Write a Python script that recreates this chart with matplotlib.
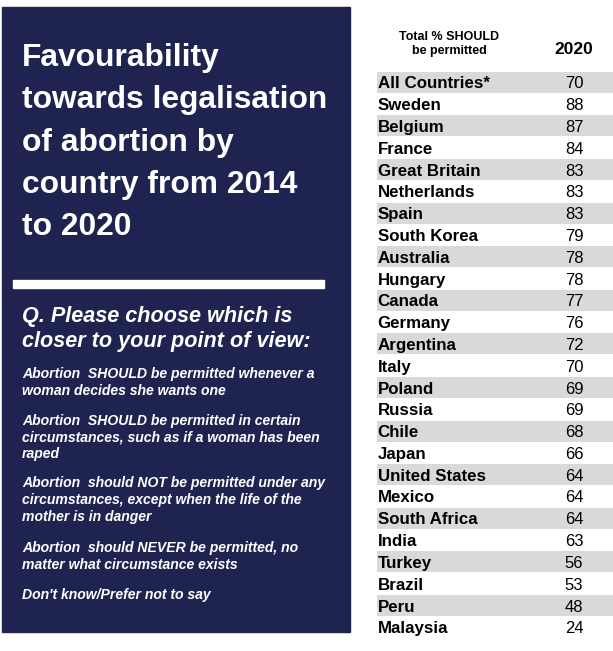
import matplotlib
matplotlib.use("Agg")
import matplotlib.pyplot as plt
from matplotlib.patches import Rectangle

plt.rcParams['font.family'] = ['Liberation Sans', 'DejaVu Sans']

countries = ["All Countries*", "Sweden", "Belgium", "France", "Great Britain", "Netherlands",
             "Spain", "South Korea", "Australia", "Hungary", "Canada", "Germany", "Argentina",
             "Italy", "Poland", "Russia", "Chile", "Japan", "United States", "Mexico",
             "South Africa", "India", "Turkey", "Brazil", "Peru", "Malaysia"]
values_2020 = [70, 88, 87, 84, 83, 83, 83, 79, 78, 78, 77, 76, 72, 70, 69, 69, 68, 66, 64, 64,
               64, 63, 56, 53, 48, 24]
column_header = "2020"
measure_label = ["Total % SHOULD", "be permitted"]
title_lines = ["Favourability", "towards legalisation", "of abortion by",
               "country from 2014", "to 2020"]
question_lines = ["Q. Please choose which is", "closer to your point of view:"]
options = [
    ["Abortion  SHOULD be permitted whenever a", "woman decides she wants one"],
    ["Abortion  SHOULD be permitted in certain",
     "circumstances, such as if a woman has been", "raped"],
    ["Abortion  should NOT be permitted under any",
     "circumstances, except when the life of the", "mother is in danger"],
    ["Abortion  should NEVER be permitted, no", "matter what circumstance exists"],
    ["Don't know/Prefer not to say"],
]

W, H = 613, 651
fig = plt.figure(figsize=(W / 100, H / 100), dpi=100)
ax = fig.add_axes([0, 0, 1, 1])
ax.set_xlim(0, W)
ax.set_ylim(H, 0)
ax.axis('off')

navy = '#1e2350'
# left panel
ax.add_patch(Rectangle((2, 7), 348, 625, color=navy, zorder=0))
for i, t in enumerate(title_lines):
    ax.text(22, 66 + i * 42.25, t, color='white', fontsize=22.9, fontweight='bold',
            va='baseline', ha='left')
ax.add_patch(Rectangle((13, 280), 311, 8, color='white', zorder=1))
for y, t in zip([321.7, 347.3], question_lines):
    ax.text(22, y, t, color='white', fontsize=15.6, fontweight='bold', style='italic',
            va='baseline', ha='left')
opt_y = [378.3, 425, 487.3, 552.3, 599]
for y0, lines in zip(opt_y, options):
    for j, t in enumerate(lines):
        ax.text(22, y0 + j * 16.7, t, color='white', fontsize=10.1, fontweight='bold',
                style='italic', va='baseline', ha='left')

# table
row0 = 82.2
step = 21.8
for j, t in enumerate(measure_label):
    ax.text(449.5, 40 + j * 14, t, fontsize=9, fontweight='bold', ha='center',
            va='baseline', color='black')
ax.text(574, 54, column_header, fontsize=12.5, fontweight='bold', ha='center',
        va='baseline', color='black')
for i, (c, v) in enumerate(zip(countries, values_2020)):
    y = row0 + i * step
    if i % 2 == 0:
        ax.barh(y, 613 - 376.5, left=376.5, height=21, color='#d9d9d9', zorder=0)
    ax.text(377.5, y + 6.1, c, fontsize=12.2, fontweight='bold', ha='left', va='baseline',
            color='black')
    ax.text(574, y + 6.1, str(v), fontsize=12, ha='center', va='baseline', color='black')

fig.savefig('out.png', dpi=100, facecolor='white')
